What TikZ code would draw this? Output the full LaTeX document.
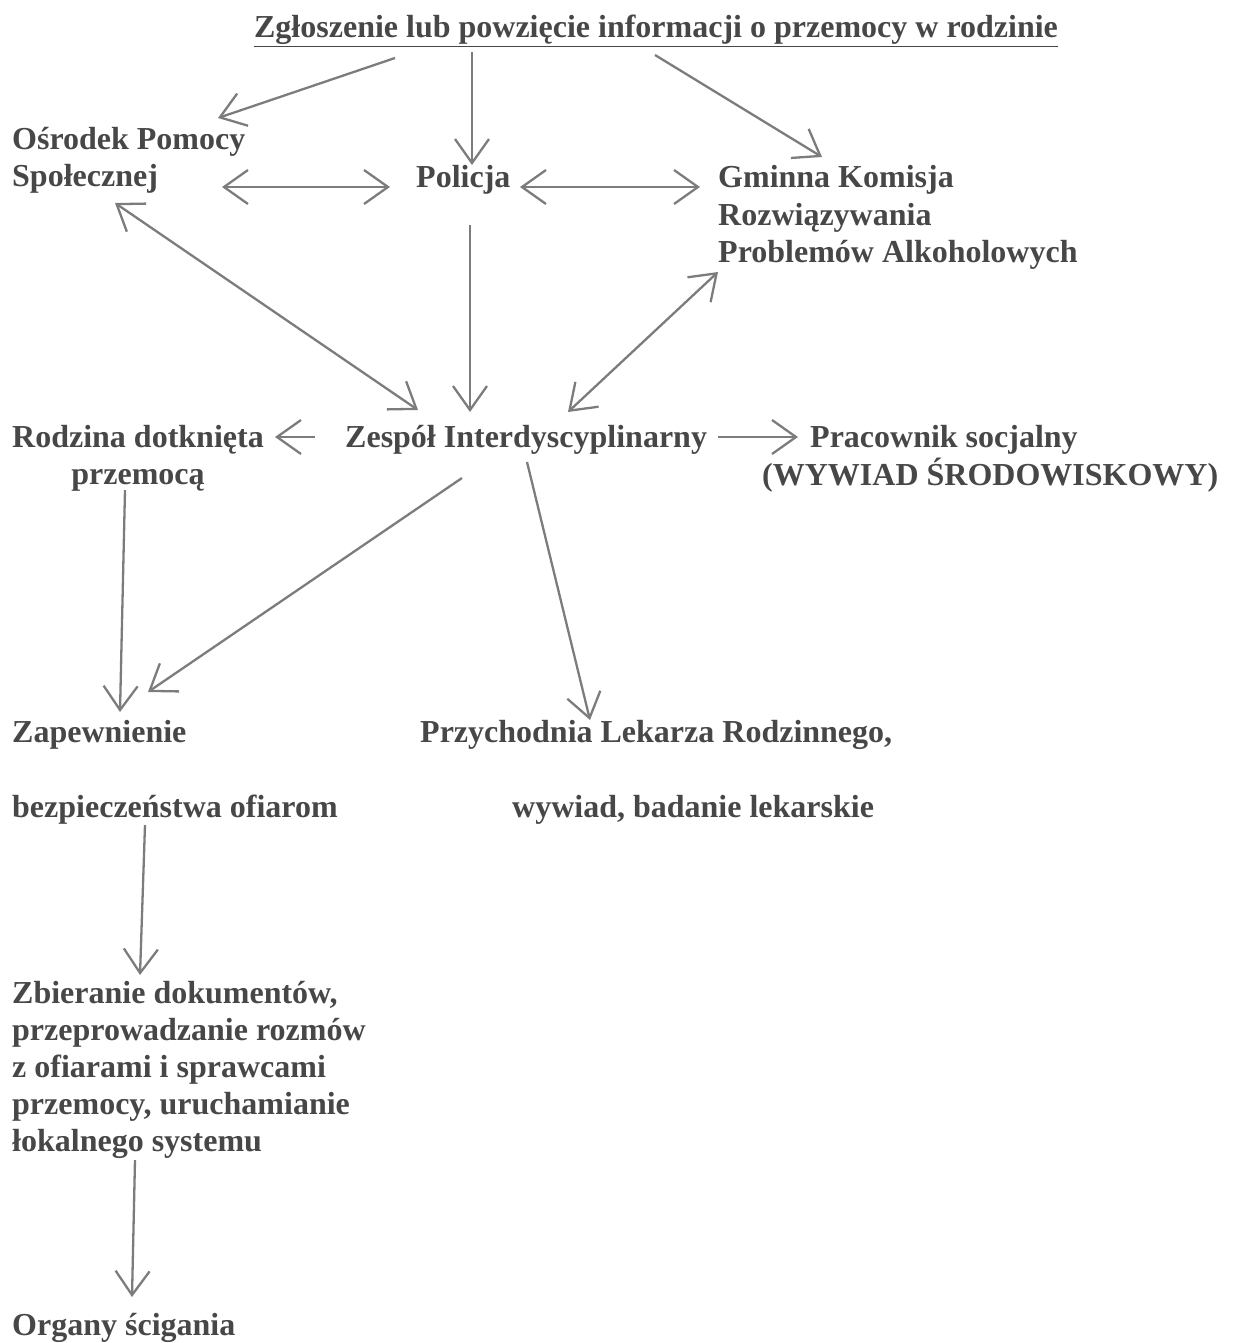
\documentclass[tikz,border=0pt]{standalone}
\usepackage{fontspec}
\setmainfont{Liberation Serif}
\usetikzlibrary{positioning,arrows.meta,calc}
\definecolor{inkgray}{HTML}{474747}
\definecolor{linegray}{HTML}{7C7C7C}
% stacked lines whose baseline is the first line
\newcommand{\stackleft}[1]{\begin{tabular}[t]{@{}l@{}}#1\end{tabular}}
\newcommand{\stackcenter}[1]{\begin{tabular}[t]{@{}c@{}}#1\end{tabular}}
\tikzset{textnode/.style={inner sep=0pt, anchor=base west,
    text=inkgray, font=\fontsize{32}{37}\selectfont\bfseries},
  myarrow/.style={-{Straight Barb[length=24pt,width=34pt]}, draw=linegray, line width=2.3pt},
  twoarrow/.style={{Straight Barb[length=24pt,width=34pt]}-{Straight Barb[length=24pt,width=34pt]},
    draw=linegray, line width=2.3pt}
}
\begin{document}
\begin{tikzpicture}[x=1pt,y=-1pt]
   \useasboundingbox (0,0) rectangle (1255,1343);

   %Title node
   \node (zgl) [textnode, anchor=base] at (656,38)
   {\underline{Zgłoszenie lub powzięcie informacji o przemocy w rodzinie}};

   %first row
   \node (osr) [textnode] at (12,150) {\stackleft{Ośrodek Pomocy\\Społecznej}};
   \node (pol) [textnode] at (416,188) {Policja};
   \node (gkr) [textnode] at (718,188)
   {\stackleft{Gminna Komisja\\Rozwiązywania\\Problemów Alkoholowych}};

   %middle row
   \node (zesp) [textnode] at (345,447) {Zespół Interdyscyplinarny};
   \node (rodz) [textnode] at (12,447) {\stackcenter{Rodzina dotknięta\\przemocą}};
   \node (prac) [textnode] at (762,447)
   {\stackleft{\hspace*{48pt}Pracownik socjalny\\(WYWIAD ŚRODOWISKOWY)}};

   %lower rows
   \node (zap) [textnode] at (12,742) {\stackleft{Zapewnienie\\[38pt]bezpieczeństwa ofiarom}};
   \node (przych) [textnode] at (420,742)
   {\stackleft{Przychodnia Lekarza Rodzinnego,\\[38pt]\hspace*{92pt}wywiad, badanie lekarskie}};
   \node (zbier) [textnode] at (12,1003)
   {\stackleft{Zbieranie dokumentów,\\przeprowadzanie rozmów\\z ofiarami i sprawcami\\przemocy, uruchamianie\\łokalnego systemu}};
   \node (org) [textnode] at (12,1335) {Organy ścigania};

   % arrows from the title
   \draw[myarrow] ($(zgl.base)+(-261,20)$) -- ($(osr.base west)+(206,-32)$);
   \draw[myarrow] ($(zgl.base)+(-184,14)$) -- ($(pol.base west)+(56,-23)$);
   \draw[myarrow] ($(zgl.base)+(-1,17)$) -- ($(gkr.base west)+(104,-31)$);

   % both ways
   \draw[twoarrow] ($(osr.base west)+(210,37)$) -- ($(pol.base west)+(-26,-1)$);
   \draw[twoarrow] ($(pol.base west)+(104,-1)$) -- ($(gkr.base west)+(-18,-1)$);
   \draw[twoarrow] ($(osr.base west)+(103,53)$) -- ($(zesp.base west)+(73,-37)$);
   \draw[myarrow] ($(pol.base west)+(54,37)$) -- ($(zesp.base west)+(125,-35)$);
   \draw[twoarrow] ($(gkr.base west)+(0,84)$) -- ($(zesp.base west)+(223,-35)$);

   % out of Zespol
   \draw[myarrow] ($(zesp.base west)+(-30,-10)$) -- ($(rodz.base west)+(263,-10)$);
   \draw[myarrow] ($(zesp.base west)+(373,-10)$) -- ($(prac.base west)+(36,-10)$);
   \draw[myarrow] ($(zesp.base west)+(117,31)$) -- ($(zap.base west)+(136,-50)$);
   \draw[myarrow] ($(zesp.base west)+(182,15)$) -- ($(przych.base west)+(170,-22)$);

   % left column
   \draw[myarrow] ($(rodz.base west)+(113,43)$) -- ($(zap.base west)+(108,-30)$);
   \draw[myarrow] ($(zap.base west)+(133,83)$) -- ($(zbier.base west)+(128,-28)$);
   \draw[myarrow] ($(zbier.base west)+(123,157)$) -- ($(org.base west)+(120,-38)$);

\end{tikzpicture}
\end{document}
